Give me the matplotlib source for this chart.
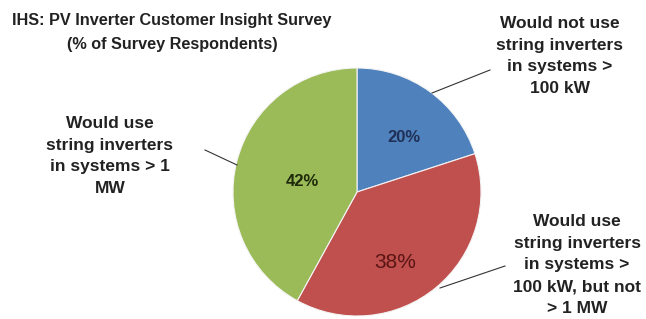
import matplotlib.pyplot as plt

# data
labels = ['Would not use\nstring inverters\nin systems >\n100 kW',
          'Would use\nstring inverters\nin systems >\n100 kW, but not\n> 1 MW',
          'Would use\nstring inverters\nin systems > 1\nMW']
shares = [20, 38, 42]
colors = ['#4F81BD', '#C0504D', '#9BBB59']
pct_colors = ['#1F2F55', '#5A1414', '#1E2A0A']

W, H = 646, 319
fig = plt.figure(figsize=(W / 100, H / 100), dpi=100, facecolor='white')
ax = fig.add_axes([0, 0, 1, 1])

plt.rcParams['font.family'] = ['Liberation Sans', 'DejaVu Sans']

cx, cy, R = 357, H - 192, 124
wedges, _ = ax.pie(shares, colors=colors, startangle=90, counterclock=False,
                   center=(cx, cy), radius=R, frame=True,
                   wedgeprops=dict(edgecolor='#f4f4f4', linewidth=0.8))
ax.set_xlim(0, W)
ax.set_ylim(0, H)
ax.set_aspect('equal')
ax.axis('off')

# percent labels
pct_pos = [(404, 137, 12, 'bold'), (395, 262, 15, 'normal'), (302, 182, 12, 'bold')]
for v, c, (x, y, fs, fw) in zip(shares, pct_colors, pct_pos):
    ax.text(x, H - y, f'{v}%', ha='center', va='center', fontsize=fs,
            fontweight=fw, color=c)

# category labels
lab_pos = [(560, 56), (577, 265), (110, 156)]
for lab, (x, y) in zip(labels, lab_pos):
    ax.text(x, H - y, lab, ha='center', va='center', fontsize=12.5,
            fontweight='bold', color='#222222', linespacing=1.55)

# leader lines
leaders = [((432, 93), (490, 70)), ((440, 288), (505, 266)), ((237, 165), (205, 150))]
for (x0, y0), (x1, y1) in leaders:
    ax.plot([x0, x1], [H - y0, H - y1], color='#333333', linewidth=0.8)

ax.text(172, H - 20, 'IHS: PV Inverter Customer Insight Survey', ha='center',
        va='center', fontsize=11.7, fontweight='bold', color='#222222')
ax.text(172, H - 45, '(% of Survey Respondents)', ha='center', va='center',
        fontsize=11.7, fontweight='bold', color='#222222')

fig.savefig('out.png', dpi=100, facecolor='white')
